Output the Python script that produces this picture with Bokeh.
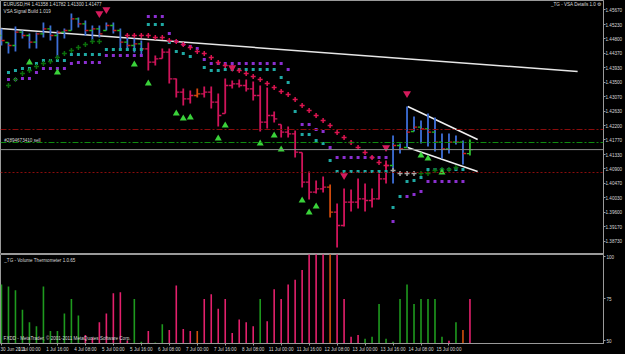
import numpy as np
from bokeh.plotting import figure
from bokeh.layouts import column
from bokeh.models import Range1d, FixedTicker, Span, Label, PrintfTickFormatter
from bokeh.embed import file_html
from bokeh.resources import INLINE

# ---------------- data ----------------
bar_high = [1.4511,1.4469,1.4517,1.4505,1.4496,1.4499,1.4529,1.4520,1.4505,1.4511,
            1.4556,1.4544,1.4535,1.4520,1.4520,1.4529,1.4529,1.4511,1.4484,1.4481,
            1.4475,1.4469,1.4430,1.4451,1.4451,1.4361,1.4331,1.4325,1.4331,1.4337,
            1.4337,1.4316,1.4361,1.4355,1.4358,1.4358,1.4352,1.4340,1.4334,1.4262,
            1.4223,1.4217,1.4205,1.4139,1.4082,1.4055,1.4067,1.4043,1.3986,1.4031,
            1.4028,1.4061,1.4046,1.4031,1.4076,1.4115,1.4190,1.4166,1.4277,1.4247,
            1.4235,1.4256,1.4244,1.4196,1.4196,1.4190,1.4175,1.41782]
bar_low = [1.4460,1.4436,1.4442,1.4481,1.4451,1.4451,1.4484,1.4475,1.4424,1.4481,
           1.4505,1.4514,1.4490,1.4475,1.4484,1.4505,1.4496,1.4451,1.4445,1.4439,
           1.4430,1.4385,1.4400,1.4421,1.4346,1.4304,1.4280,1.4286,1.4304,1.4304,
           1.4271,1.4217,1.4256,1.4331,1.4334,1.4322,1.4295,1.4202,1.4211,1.4229,
           1.4184,1.4184,1.4124,1.4034,1.3998,1.4016,1.4019,1.3944,1.3854,1.3917,
           1.3962,1.3971,1.3962,1.3974,1.3998,1.4046,1.4046,1.4136,1.4154,1.4202,
           1.4166,1.4157,1.4142,1.4121,1.4136,1.4163,1.4103,1.41300]
bar_close = [1.4475,1.4460,1.4500,1.4490,1.4470,1.4495,1.4510,1.4490,1.4500,1.4505,
             1.4540,1.4525,1.4505,1.4510,1.4495,1.4520,1.4505,1.4470,1.4460,1.4465,
             1.4450,1.4410,1.4420,1.4440,1.4360,1.4320,1.4300,1.4310,1.4315,1.4320,
             1.4290,1.4250,1.4340,1.4345,1.4340,1.4330,1.4310,1.4230,1.4250,1.4240,
             1.4200,1.4195,1.4140,1.4050,1.4020,1.4030,1.4035,1.3960,1.3920,1.3990,
             1.3990,1.4000,1.3995,1.4000,1.4060,1.4100,1.4160,1.4150,1.4200,1.4215,
             1.4210,1.4200,1.4170,1.4150,1.4170,1.4170,1.4136,1.41477]
first_open = 1.4490
# b = blue, r = crimson, o = orange, g = green
bar_kind = "bbbbbbbbbbbbbbbbbbbbb" + "rrrrrrr" + "o" + "rrrrrrrrrrrrrrrrrr" + "o" + "rrrrrrrr" + "bbbbbbbbbbb" + "g"

purple_idx = [1,2,3,4,5,6,7,8,9,10,11,12,13,14,15,16,17,18,19,20,21,22,23,24,25,26,27,28,29,
              30,31,32,33,34,35,36,37,38,39,40,41,43,44,45,46,47,48,49,50,51,52,53,54,55,56,
              58,59,60,61,62,63,64,65,66]
purple_val = [1.4358,1.4358,1.4361,1.4361,1.4379,1.4391,1.4391,1.4391,1.4391,1.4406,1.4409,1.4409,
              1.4409,1.4409,1.4430,1.4430,1.4430,1.4430,1.4430,1.4430,1.4547,1.4547,1.4547,1.4496,
              1.4472,1.4463,1.4457,1.4451,1.4418,1.4406,1.4406,1.4406,1.4406,1.4406,1.4406,1.4406,
              1.4406,1.4406,1.4406,1.4406,1.4388,1.4223,1.4223,1.4208,1.4202,1.4154,1.4124,1.4124,
              1.4124,1.4124,1.4124,1.4124,1.4124,1.4124,1.3932,1.4007,1.4013,1.4022,1.4052,1.4052,
              1.4052,1.4052,1.4052,1.4052]
cyan_idx = [1,2,3,4,5,6,7,8,9,10,11,12,13,14,15,16,17,18,19,20,21,22,23,24,25,26,27,29,
            30,31,32,33,34,35,36,37,38,39,40,41,42,43,44,45,46,47,48,49,50,51,52,53,54,55,
            56,57,58,59,60,61,62,63,64,65,66]
cyan_val = [1.4379,1.4385,1.4391,1.4391,1.4406,1.4415,1.4415,1.4415,1.4415,1.4433,1.4433,1.4433,
            1.4433,1.4433,1.4448,1.4448,1.4448,1.4448,1.4448,1.4448,1.4523,1.4523,1.4523,1.4469,
            1.4442,1.4436,1.4427,1.4394,1.4385,1.4385,1.4388,1.4388,1.4388,1.4388,1.4388,1.4388,
            1.4388,1.4388,1.4364,1.4349,1.4262,1.4193,1.4193,1.4175,1.4166,1.4115,1.4082,1.4082,
            1.4082,1.4082,1.4082,1.4082,1.4082,1.4082,1.3974,1.4007,1.4052,1.4055,1.4064,1.4088,
            1.4088,1.4088,1.4088,1.4088,1.4088]
redx_idx = list(range(18, 56))
redx_val = [1.4490,1.4490,1.4490,1.4490,1.4484,1.4484,1.4475,1.4472,1.4463,1.4454,1.4442,1.4436,
            1.4424,1.4409,1.4400,1.4394,1.4385,1.4376,1.4367,1.4358,1.4346,1.4334,1.4322,1.4313,
            1.4298,1.4280,1.4265,1.4250,1.4235,1.4220,1.4199,1.4184,1.4169,1.4154,1.4139,1.4124,
            1.4109,1.4100]
greenx_idx = [1,2,3,4,5,6,7,8,9,10,11,12,13,14,60,61,62,63,64,65]
greenx_val = [1.4340,1.4358,1.4376,1.4385,1.4397,1.4406,1.4412,1.4424,1.4436,1.4445,1.4454,1.4463,
              1.4472,1.4472,1.4076,1.4076,1.4085,1.4088,1.4088,1.4094]
greyx_idx = [56,57,58,59]
greyx_val = [1.4085,1.4076,1.4076,1.4076]
up_idx = [4,8,19,21,25,26,27,31,32,37,39,40,43,44,45,60,61,63]
up_val = [1.4409,1.4379,1.4403,1.4346,1.4256,1.4241,1.4244,1.4181,1.4220,1.4166,1.4190,1.4148,
          1.3995,1.3959,1.3977,1.4130,1.4121,1.4079]
down_idx = [14,15,33,49,55,58]
down_val = [1.4556,1.4568,1.4394,1.4070,1.4154,1.4316]

trend_x = [-0.14, 82.4]
trend_y = [1.4511, 1.4382]
chan_x = [58.1, 68.1]
chan_top = [1.4277, 1.4178]
chan_bot = [1.4154, 1.4082]
level_dashdot_red = 1.4208
level_dashdot_green = 1.4169
level_bid = 1.41477
level_dotted_red = 1.4079

price_ticks = [1.45670,1.45230,1.44800,1.44370,1.43930,1.43500,1.43070,1.42630,1.42200,
               1.41770,1.41330,1.40900,1.40470,1.40030,1.39600,1.39170,1.38730]

vol = [83.3,82.2,79.9,68.4,60.9,58.6,82.2,55.7,55.7,66.1,74.7,64.9,53.4,51.7,60.9,66.1,78.2,78.7,
       50.0,74.7,49.4,55.7,48.9,59.8,56.3,82.8,56.9,55.7,55.7,
       74.7,77.6,69.0,74.7,54.6,62.6,60.9,58.6,74.7,61.5,80.5,74.7,83.3,86.2,92.0,
       120,120,120,120,120,74.7,52.3,53.4,51.1,52.3,71.8,51.1,49.4,
       74.7,83.3,71.8,74.7,74.7,74.7,52.3,50.0,60.9,56.3,74.7]
vol_kind = "g"*12 + "r"*7 + "gg" + "r" + "gg" + "r"*4 + "o" + "r"*8 + "g" + "r"*9 + "o" + "r"*4 + "g"*12 + "r" + "g" + "o" + "r"

time_tick_idx = list(range(0, 68, 4))
time_labels = ["30 Jun 2011","1 Jul 00:00","1 Jul 16:00","4 Jul 08:00","5 Jul 00:00","5 Jul 16:00",
               "6 Jul 08:00","7 Jul 00:00","7 Jul 16:00","8 Jul 08:00","11 Jul 00:00","11 Jul 16:00",
               "12 Jul 08:00","13 Jul 00:00","13 Jul 16:00","14 Jul 08:00","15 Jul 00:00"]
vol_ticks = [50, 75, 100]

# ---------------- styling ----------------
BAR_COL = {"b": "#3d6fd9", "r": "#d0145a", "o": "#d04a0c", "g": "#2fbf2f"}
OPEN_COL = {"b": "#22b822", "r": "#d0145a", "o": "#d04a0c", "g": "#2fbf2f"}
CLOSE_COL = {"b": "#d01e1e", "r": "#d0145a", "o": "#d04a0c", "g": "#2fbf2f"}
VOL_COL = {"g": "#1e9a1e", "r": "#e3206c", "o": "#d2500c"}
FONT = "Liberation Sans"
FS = "4.6px"
TXT = "#d8d8d8"
GRID = "#9a9a9a"

n = len(bar_high)
idx = np.arange(n)
bar_open = [first_open] + [min(max(c, l), h) for c, l, h in zip(bar_close[:-1], bar_low[1:], bar_high[1:])]
bar_open[-1] = 1.41358

x_start, x_end = -0.14, 86.1

p = figure(width=625, height=254, x_range=Range1d(x_start, x_end), y_range=Range1d(1.3833, 1.4595),
           output_backend="svg", toolbar_location=None, x_axis_location=None, y_axis_location="right",
           background_fill_color="black", border_fill_color="black",
           min_border_left=0, min_border_top=0, min_border_bottom=0, min_border_right=12)
p.grid.visible = False
p.outline_line_color = GRID
p.yaxis.ticker = FixedTicker(ticks=price_ticks)
p.yaxis.formatter = PrintfTickFormatter(format="%.5f")
for ax in p.yaxis:
    ax.axis_line_color = GRID
    ax.major_tick_line_color = GRID
    ax.major_tick_out = 2
    ax.major_tick_in = 0
    ax.minor_tick_out = 0
    ax.minor_tick_in = 0
    ax.major_label_standoff = 0
    ax.major_label_text_font_size = FS
    ax.major_label_text_font = FONT
    ax.major_label_text_color = TXT

# horizontal levels
p.add_layout(Span(location=level_dashdot_red, dimension="width", line_color="#8a0c0c", line_dash="6 2 2 2", line_width=1))
p.add_layout(Span(location=level_dashdot_green, dimension="width", line_color="#0f8a0f", line_dash="6 2 2 2", line_width=1.2))
p.add_layout(Span(location=level_bid, dimension="width", line_color="#8c8c8c", line_width=1))
p.add_layout(Span(location=level_dotted_red, dimension="width", line_color="#8a0c0c", line_dash="2 2", line_width=1.2))

# trend line and channel
p.line(trend_x, trend_y, line_color="#e6e6e6", line_width=1.5)
p.line(chan_x, chan_top, line_color="#f0f0f0", line_width=1.5)
p.line(chan_x, chan_bot, line_color="#f0f0f0", line_width=1.5)

# bars
cols = [BAR_COL[k] for k in bar_kind]
p.segment(x0=idx, y0=bar_low, x1=idx, y1=bar_high, line_color=cols, line_width=1.8)
p.segment(x0=idx - 0.45, y0=bar_open, x1=idx, y1=bar_open, line_color=[OPEN_COL[k] for k in bar_kind], line_width=1.3)
p.segment(x0=idx, y0=bar_close, x1=idx + 0.45, y1=bar_close, line_color=[CLOSE_COL[k] for k in bar_kind], line_width=1.3)

# indicator dots
p.scatter(purple_idx, purple_val, marker="square", size=3, fill_color="#8b2fd0", line_color=None)
p.scatter(cyan_idx, cyan_val, marker="square", size=3, fill_color="#1fa9a3", line_color=None)
p.scatter(redx_idx, redx_val, marker="cross", size=5, line_color="#dc1450", line_width=1.5)
p.scatter(greenx_idx, greenx_val, marker="cross", size=5, line_color="#0b6e0b", line_width=1.5)
p.scatter(greyx_idx, greyx_val, marker="cross", size=5, line_color="#a8a8a8", line_width=1.5)
p.scatter(up_idx, up_val, marker="triangle", size=7, fill_color="#3ad23a", line_color=None)
p.scatter(down_idx, down_val, marker="inverted_triangle", size=8, fill_color="#d41b5c", line_color=None)

# texts
p.add_layout(Label(x=0.3, y=1.4590, text="EURUSD,H4  1.41358 1.41782 1.41300 1.41477", text_color=TXT,
                   text_font_size=FS, text_font=FONT, text_baseline="top"))
p.add_layout(Label(x=0.3, y=1.4569, text="VSA Signal Build 1.019", text_color=TXT,
                   text_font_size=FS, text_font=FONT, text_baseline="top"))
p.add_layout(Label(x=x_end - 0.3, y=1.4590, text="_TG - VSA Details 1.0 \u2699", text_color=TXT,
                   text_font_size=FS, text_font=FONT, text_baseline="top", text_align="right"))
p.add_layout(Label(x=0.4, y=1.4176, text="#2894673410 sell", text_color=TXT,
                   text_font_size=FS, text_font=FONT, text_baseline="middle"))
p.add_layout(Label(x=x_end, y=level_bid, x_offset=1, text="1.41477", text_color="black",
                   background_fill_color="white", text_font_size=FS, text_font=FONT, text_baseline="middle"))

# ---------------- volume panel ----------------
v = figure(width=625, height=100, x_range=p.x_range, y_range=Range1d(48.3, 101.15),
           output_backend="svg", toolbar_location=None, y_axis_location="right",
           background_fill_color="black", border_fill_color="black",
           min_border_left=0, min_border_top=0, min_border_bottom=0, min_border_right=12)
v.grid.visible = False
v.outline_line_color = GRID
v.segment(x0=idx, y0=0, x1=idx, y1=vol, line_color=[VOL_COL[k] for k in vol_kind], line_width=1.6)
v.yaxis.ticker = FixedTicker(ticks=vol_ticks)
v.xaxis.ticker = FixedTicker(ticks=time_tick_idx)
v.xaxis.major_label_overrides = {t: s for t, s in zip(time_tick_idx, time_labels)}
for ax in list(v.yaxis) + list(v.xaxis):
    ax.axis_line_color = GRID
    ax.major_tick_line_color = GRID
    ax.major_tick_out = 2
    ax.major_tick_in = 0
    ax.minor_tick_out = 0
    ax.minor_tick_in = 0
    ax.major_label_standoff = 1
    ax.major_label_text_font_size = FS
    ax.major_label_text_font = FONT
    ax.major_label_text_color = TXT
v.xaxis.major_label_text_align = "left"

v.add_layout(Label(x=0.4, y=98.9, text="_TG - Volume Thermometer 1.0.65", text_color=TXT,
                   text_font_size=FS, text_font=FONT, text_baseline="top"))
v.add_layout(Label(x=0.3, y=51.5, text="FXDD - MetaTrader, \u00a9 2001-2011 MetaQuotes Software Corp.", text_color=TXT,
                   text_font_size=FS, text_font=FONT, text_baseline="middle"))

layout = column(p, v, spacing=0, background="black")
open("out.html", "w").write(file_html(layout, INLINE))
